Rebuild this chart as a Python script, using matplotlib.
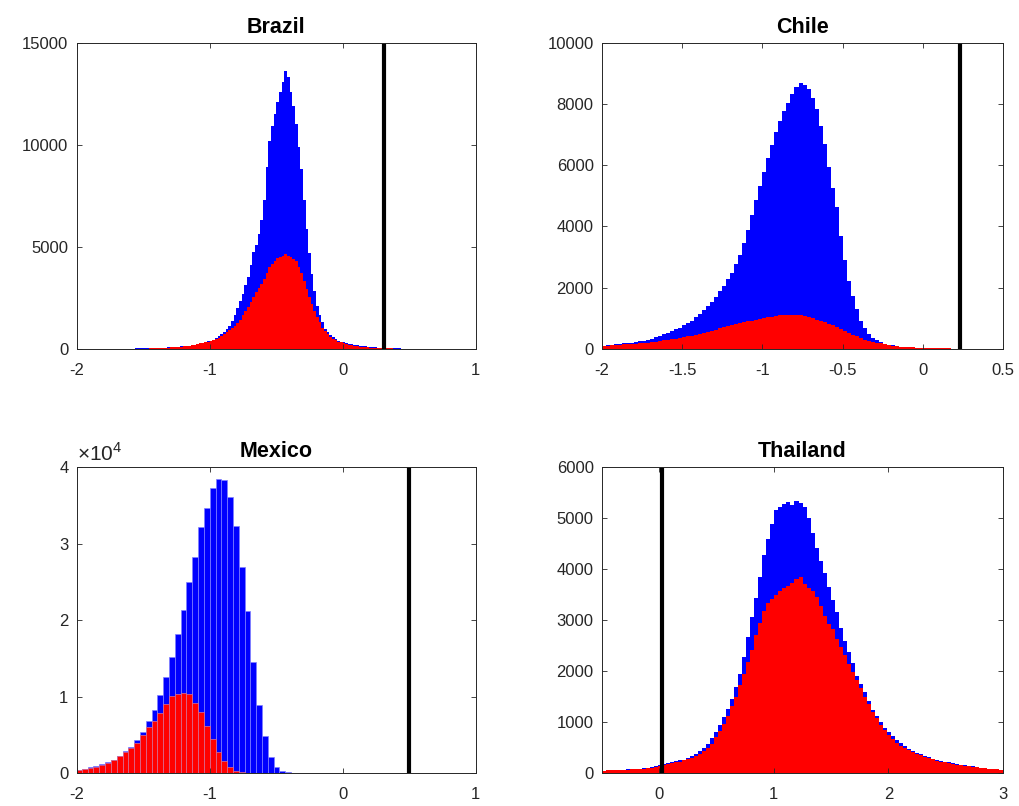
import numpy as np
import matplotlib
matplotlib.use('Agg')
import matplotlib.pyplot as plt

plt.rcParams['font.family'] = ['Liberation Sans', 'DejaVu Sans']
plt.rcParams['axes.unicode_minus'] = False
plt.rcParams['mathtext.fontset'] = 'custom'
plt.rcParams['mathtext.rm'] = 'Liberation Sans'

# Histogram heights, counts in thousands.
# Brazil: bins of 0.02 starting at -1.6
brazil_start, brazil_width = -1.6, 0.02
brazil_blue = [
    0.02, 0.02, 0.03, 0.03, 0.03, 0.04, 0.04, 0.05, 0.05, 0.05,
    0.06, 0.06, 0.07, 0.07, 0.08, 0.09, 0.10, 0.11, 0.12, 0.13,
    0.14, 0.15, 0.17, 0.19, 0.22, 0.25, 0.27, 0.30, 0.33, 0.37,
    0.40, 0.45, 0.52, 0.62, 0.72, 0.84, 0.98, 1.15, 1.38, 1.65,
    2.00, 2.35, 2.70, 3.15, 3.55, 4.10, 4.75, 5.10, 5.65, 6.30,
    7.30, 8.90, 10.2, 10.9, 11.5, 12.1, 12.6, 13.1, 13.6, 13.3,
    12.6, 11.9, 11.0, 9.90, 8.80, 7.30, 5.90, 4.70, 3.65, 2.85,
    2.10, 1.65, 1.30, 1.00, 0.82, 0.68, 0.58, 0.48, 0.41, 0.36,
    0.32, 0.28, 0.25, 0.23, 0.21, 0.19, 0.17, 0.15, 0.13, 0.12,
    0.10, 0.09, 0.08, 0.07, 0.06, 0.05, 0.05, 0.04, 0.04, 0.03,
    0.03, 0.03, 0.02, 0.02, 0.02]
brazil_red = [
    0.01, 0.01, 0.01, 0.02, 0.02, 0.02, 0.02, 0.03, 0.03, 0.03,
    0.04, 0.04, 0.05, 0.06, 0.07, 0.08, 0.09, 0.10, 0.11, 0.12,
    0.13, 0.15, 0.17, 0.19, 0.21, 0.24, 0.27, 0.30, 0.33, 0.36,
    0.40, 0.44, 0.49, 0.55, 0.63, 0.72, 0.82, 0.92, 1.02, 1.13,
    1.27, 1.43, 1.65, 1.85, 2.05, 2.30, 2.55, 2.80, 3.00, 3.20,
    3.45, 3.70, 4.00, 4.15, 4.30, 4.45, 4.50, 4.55, 4.65, 4.55,
    4.50, 4.40, 4.30, 4.00, 3.70, 3.35, 2.95, 2.55, 2.20, 1.85,
    1.55, 1.30, 1.05, 0.88, 0.72, 0.58, 0.49, 0.42, 0.36, 0.32,
    0.28, 0.25, 0.21, 0.19, 0.16, 0.14, 0.12, 0.10, 0.09, 0.08,
    0.07, 0.06, 0.05, 0.05, 0.04, 0.04, 0.03, 0.03, 0.03, 0.02,
    0.02, 0.02, 0.02, 0.01, 0.01]
brazil_line = 0.31

# Chile: bins of 0.025 starting at -2
chile_start, chile_width = -2.0, 0.025
chile_blue = [
    0.11, 0.12, 0.13, 0.15, 0.16, 0.18, 0.20, 0.21, 0.23, 0.25,
    0.27, 0.30, 0.34, 0.38, 0.43, 0.48, 0.53, 0.58, 0.64, 0.70,
    0.77, 0.84, 0.93, 1.03, 1.14, 1.26, 1.39, 1.55, 1.71, 1.88,
    2.07, 2.27, 2.47, 2.76, 3.06, 3.46, 3.88, 4.37, 4.88, 5.33,
    5.78, 6.24, 6.67, 7.07, 7.43, 7.76, 8.03, 8.33, 8.55, 8.68,
    8.62, 8.50, 8.20, 7.82, 7.27, 6.70, 5.93, 5.27, 4.63, 3.70,
    2.92, 2.22, 1.72, 1.30, 0.90, 0.67, 0.49, 0.37, 0.28, 0.22,
    0.17, 0.14, 0.12, 0.10, 0.08, 0.07, 0.06, 0.05, 0.04, 0.03,
    0.03, 0.03, 0.02, 0.02, 0.02, 0.02, 0.02, 0.01, 0.01, 0.01,
    0.01, 0.01, 0.01, 0.01, 0.01, 0.01, 0.01, 0.01, 0.01, 0.01]
chile_red = [
    0.10, 0.11, 0.12, 0.13, 0.14, 0.15, 0.16, 0.16, 0.17, 0.19,
    0.20, 0.21, 0.23, 0.24, 0.26, 0.28, 0.30, 0.32, 0.34, 0.36,
    0.38, 0.41, 0.44, 0.47, 0.50, 0.53, 0.57, 0.60, 0.63, 0.67,
    0.71, 0.74, 0.78, 0.81, 0.84, 0.87, 0.90, 0.93, 0.96, 0.99,
    1.02, 1.04, 1.06, 1.08, 1.10, 1.11, 1.12, 1.12, 1.11, 1.10,
    1.07, 1.04, 1.00, 0.96, 0.92, 0.87, 0.82, 0.77, 0.71, 0.65,
    0.59, 0.53, 0.47, 0.41, 0.36, 0.31, 0.27, 0.24, 0.21, 0.18,
    0.15, 0.13, 0.11, 0.10, 0.08, 0.07, 0.06, 0.05, 0.04, 0.03,
    0.03, 0.03, 0.02, 0.02, 0.02, 0.02, 0.02, 0.01, 0.01, 0.01,
    0.01, 0.01, 0.01, 0.01, 0.01, 0.01, 0.01, 0.01, 0.01, 0.01]
chile_line = 0.232

# Mexico: wide bins, first bin index -23 relative to the edge at -1
mexico_edge, mexico_width, mexico_first = -1.0, 0.0437, -23
mexico_blue = [
    0.45, 0.59, 0.73, 0.87, 1.14, 1.43, 1.74, 2.26, 2.87, 3.43,
    4.35, 5.39, 6.78, 8.30, 10.15, 12.53, 15.21, 18.13, 21.35, 24.97,
    28.24, 32.16, 34.60, 37.30, 38.48, 38.34, 36.04, 32.33, 26.93, 21.18,
    14.51, 8.89, 4.79, 2.14, 0.78, 0.22, 0.09, 0.04]
mexico_red = [
    0.43, 0.565, 0.70, 0.83, 1.09, 1.35, 1.65, 2.17, 2.74, 3.22,
    3.96, 4.91, 5.96, 6.83, 7.83, 9.04, 10.04, 10.35, 10.43, 10.35,
    9.13, 8.00, 6.17, 4.48, 2.78, 1.61, 0.78, 0.30, 0.13, 0.04,
    0.02, 0.01]
mexico_line = 0.5

# Thailand: bins of 0.035 starting at -0.5
thai_start, thai_width = -0.5, 0.035
thai_blue = [
    0.04, 0.05, 0.05, 0.05, 0.06, 0.06, 0.07, 0.07, 0.08, 0.08,
    0.09, 0.10, 0.11, 0.13, 0.15, 0.17, 0.19, 0.21, 0.23, 0.25,
    0.26, 0.29, 0.33, 0.38, 0.43, 0.49, 0.57, 0.68, 0.81, 0.94,
    1.09, 1.25, 1.46, 1.68, 1.94, 2.27, 2.67, 3.06, 3.44, 3.84,
    4.27, 4.59, 4.88, 5.15, 5.22, 5.28, 5.32, 5.25, 5.33, 5.30,
    5.22, 5.00, 4.70, 4.41, 4.15, 3.93, 3.65, 3.39, 3.16, 2.84,
    2.58, 2.37, 2.16, 1.91, 1.75, 1.58, 1.41, 1.24, 1.12, 1.00,
    0.89, 0.81, 0.73, 0.65, 0.58, 0.53, 0.48, 0.44, 0.40, 0.37,
    0.34, 0.31, 0.28, 0.25, 0.24, 0.22, 0.21, 0.19, 0.17, 0.16,
    0.15, 0.14, 0.13, 0.12, 0.10, 0.09, 0.08, 0.08, 0.07, 0.06]
thai_red = [
    0.04, 0.05, 0.05, 0.05, 0.05, 0.06, 0.06, 0.07, 0.07, 0.08,
    0.08, 0.09, 0.10, 0.12, 0.13, 0.15, 0.17, 0.19, 0.21, 0.22,
    0.25, 0.27, 0.30, 0.34, 0.38, 0.43, 0.50, 0.57, 0.70, 0.82,
    0.97, 1.12, 1.32, 1.50, 1.73, 1.95, 2.17, 2.42, 2.70, 2.95,
    3.17, 3.33, 3.42, 3.50, 3.56, 3.62, 3.66, 3.72, 3.80, 3.84,
    3.70, 3.62, 3.56, 3.45, 3.28, 3.08, 2.92, 2.82, 2.63, 2.47,
    2.31, 2.14, 1.99, 1.82, 1.66, 1.50, 1.35, 1.20, 1.07, 0.95,
    0.84, 0.75, 0.67, 0.59, 0.53, 0.49, 0.45, 0.41, 0.38, 0.35,
    0.32, 0.29, 0.27, 0.24, 0.22, 0.21, 0.19, 0.18, 0.16, 0.15,
    0.14, 0.13, 0.12, 0.11, 0.10, 0.09, 0.08, 0.07, 0.07, 0.06]
thai_line = 0.024

BLUE = '#0000ff'
RED = '#ff0000'
AXC = '#262626'


def style_axes(ax, title):
    ax.set_title(title, fontsize=15.5, fontweight='bold', pad=7)
    ax.tick_params(direction='in', top=True, right=True, length=3.5,
                   width=0.6, color=AXC, labelcolor=AXC, labelsize=12)
    ax.tick_params(axis='x', pad=10)
    ax.tick_params(axis='y', pad=6)
    for s in ax.spines.values():
        s.set_color(AXC)
        s.set_linewidth(0.7)


def fine_hist(ax, start, width, blue, red):
    eb = start + width * np.arange(len(blue) + 1)
    er = start + width * np.arange(len(red) + 1)
    ax.stairs(np.array(blue) * 1000, eb, fill=True, color=BLUE, lw=0)
    ax.stairs(np.array(red) * 1000, er, fill=True, color=RED, lw=0)
    ax.spines['bottom'].set_color('#7a1f2b')
    ax.spines['bottom'].set_linewidth(1.4)


fig = plt.figure(figsize=(10.19, 8.06), dpi=100)

# Brazil
ax = fig.add_axes([0.0753, 0.567, 0.3916, 0.380])
fine_hist(ax, brazil_start, brazil_width, brazil_blue, brazil_red)
ax.axvline(brazil_line, color='black', lw=3)
ax.set_xlim(-2, 1)
ax.set_ylim(0, 15000)
ax.set_xticks([-2, -1, 0, 1])
ax.set_yticks([0, 5000, 10000, 15000])
style_axes(ax, 'Brazil')

# Chile
ax = fig.add_axes([0.5908, 0.567, 0.3935, 0.380])
fine_hist(ax, chile_start, chile_width, chile_blue, chile_red)
ax.axvline(chile_line, color='black', lw=3)
ax.set_xlim(-2, 0.5)
ax.set_ylim(0, 10000)
ax.set_xticks([-2, -1.5, -1, -0.5, 0, 0.5])
ax.set_xticklabels(['-2', '-1.5', '-1', '-0.5', '0', '0.5'])
ax.set_yticks(range(0, 10001, 2000))
style_axes(ax, 'Chile')

# Mexico
ax = fig.add_axes([0.0753, 0.0409, 0.3916, 0.3797])
xb = mexico_edge + mexico_width * (np.arange(len(mexico_blue)) + mexico_first)
xr = mexico_edge + mexico_width * (np.arange(len(mexico_red)) + mexico_first)
ax.bar(xb, np.array(mexico_blue) * 1000, width=mexico_width, align='edge',
       color=BLUE, edgecolor=(0.5, 0.5, 1.0), linewidth=0.5)
ax.bar(xr, np.array(mexico_red) * 1000, width=mexico_width, align='edge',
       color=RED, edgecolor=(0.85, 0.45, 0.6), linewidth=0.5)
ax.axvline(mexico_line, color='black', lw=3)
ax.set_xlim(-2, 1)
ax.set_ylim(0, 40000)
ax.set_xticks([-2, -1, 0, 1])
ax.set_yticks([0, 10000, 20000, 30000, 40000])
ax.set_yticklabels(['0', '1', '2', '3', '4'])
ax.text(0.0, 1.008, r'$\times10^{4}$', transform=ax.transAxes,
        ha='left', va='bottom', fontsize=15, color=AXC)
style_axes(ax, 'Mexico')

# Thailand
ax = fig.add_axes([0.5908, 0.0409, 0.3935, 0.3797])
fine_hist(ax, thai_start, thai_width, thai_blue, thai_red)
ax.axvline(thai_line, color='black', lw=3)
ax.set_xlim(-0.5, 3)
ax.set_ylim(0, 6000)
ax.set_xticks([0, 1, 2, 3])
ax.set_yticks(range(0, 6001, 1000))
style_axes(ax, 'Thailand')

fig.savefig('out.png', dpi=100)
